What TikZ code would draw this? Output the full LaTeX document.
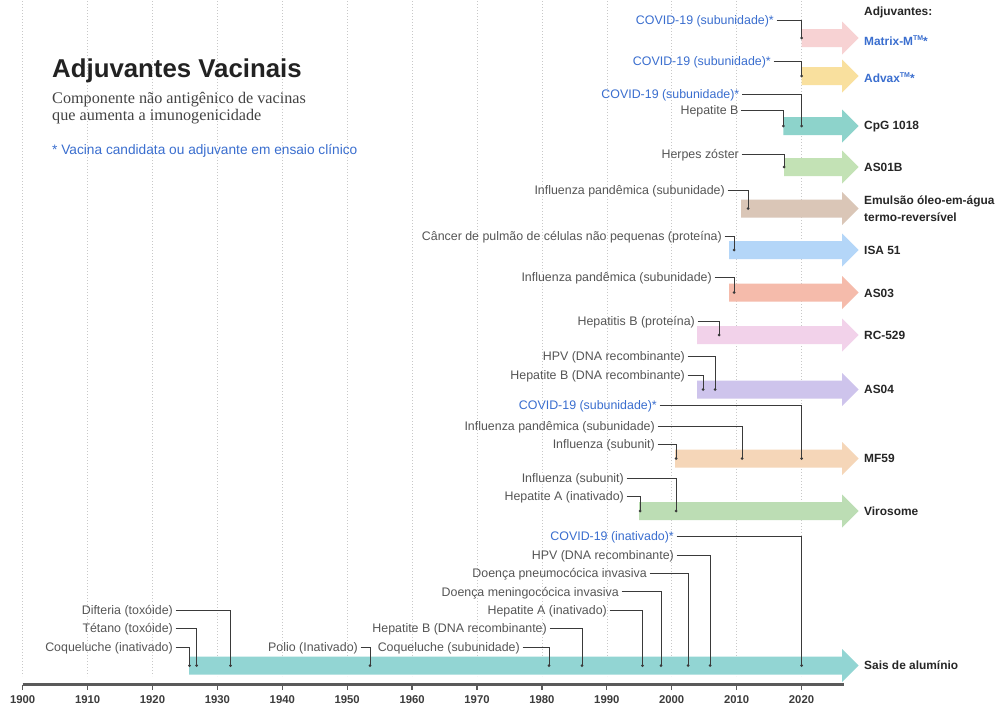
\documentclass[tikz,border=0pt]{standalone}
\usepackage{fontspec}
\setmainfont{Liberation Sans}
\newfontfamily\subserif{Liberation Serif}
\definecolor{labelgray}{HTML}{555555}
\definecolor{covblue}{HTML}{3A6ECF}
\definecolor{namedark}{HTML}{262626}
\definecolor{leadgray}{HTML}{3A3A3A}
\definecolor{gridgray}{HTML}{C8C8C8}
\definecolor{axisgray}{HTML}{5A5A5A}
\definecolor{titledark}{HTML}{222222}
\definecolor{subgray}{HTML}{444444}
\definecolor{cMatrix}{HTML}{F7D2D3}
\definecolor{cAdvax}{HTML}{F9E09E}
\definecolor{cCpG}{HTML}{8DD3CB}
\definecolor{cASb}{HTML}{C3E2B5}
\definecolor{cEmul}{HTML}{DAC6B7}
\definecolor{cISA}{HTML}{B4D6F8}
\definecolor{cASt}{HTML}{F5BBAB}
\definecolor{cRC}{HTML}{F2D2EA}
\definecolor{cASf}{HTML}{CEC4EC}
\definecolor{cMF}{HTML}{F5D6B8}
\definecolor{cViro}{HTML}{BCDDB4}
\definecolor{cSais}{HTML}{92D5D3}
\newcommand{\adjbar}[4]{%
  \fill[#3] (#1,{#2-9}) -- (842,{#2-9}) -- (842,{#2-16.5}) -- (858.5,#2) -- (842,{#2+16.5}) -- (842,{#2+9}) -- (#1,{#2+9}) -- cycle;
  \coordinate (#4) at (858.5,#2);}
\newcommand{\tmark}{\raisebox{0.42em}{\fontsize{7}{7}\selectfont TM}}
\tikzset{
  lbl/.style={anchor=east, inner sep=0pt, text height=8.8pt, text depth=0pt, text=labelgray, font=\fontsize{12.4}{14}\selectfont},
  covlbl/.style={lbl, text=covblue},
  adjname/.style={anchor=west, inner sep=0pt, align=left, text=namedark, font=\bfseries\fontsize{11.9}{16.5}\selectfont},
  lead/.style={draw=leadgray, line width=0.9pt},
  gridline/.style={draw=gridgray, line width=0.6pt, dash pattern=on 1.2pt off 1.8pt},
  ticklbl/.style={inner sep=0pt, text=namedark!90, font=\bfseries\fontsize{11.3}{13}\selectfont},
}
\newcommand{\leadto}[2]{%
  \draw[lead] ([xshift=2.5pt]#1.east) -| (#2);
  \fill[leadgray] (#2) circle (1.5pt);}
\begin{document}
\begin{tikzpicture}[x=1pt,y=-1pt]
\useasboundingbox[fill=white] (0,0) rectangle (999,704);
% grid
\foreach \i in {0,...,12}{
  \draw[gridline] ({22.7+64.9*\i},1) -- ({22.7+64.9*\i},676);
}
% axis
\draw[axisgray, line width=2.2pt] (22.7,684.5) coordinate (axL) -- (844,684.5) coordinate (axR);
\foreach \i/\yr in {0/1900,1/1910,2/1920,3/1930,4/1940,5/1950,6/1960,7/1970,8/1980,9/1990,10/2000,11/2010,12/2020}{
  \draw[axisgray, line width=1.3pt] ({22.7+64.9*\i},684.5) -- ({22.7+64.9*\i},690);
  \node[ticklbl] (t\i) at ({22.7+64.9*\i},699.5) {\yr};
}
% title block
\node[anchor=base west, inner sep=0pt, text=titledark, font=\bfseries\fontsize{25.8}{30}\selectfont] (title) at (52,77) {Adjuvantes Vacinais};
\node[anchor=base west, inner sep=0pt, text=subgray, font=\subserif\fontsize{16.2}{18}\selectfont] (sub1) at (52,103) {Componente não antigênico de vacinas};
\node[anchor=base west, inner sep=0pt, text=subgray, font=\subserif\fontsize{16.2}{18}\selectfont] (sub2) at (52,120) {que aumenta a imunogenicidade};
\node[anchor=base west, inner sep=0pt, text=covblue, font=\fontsize{13.7}{16}\selectfont] (note) at (52,154) {* Vacina candidata ou adjuvante em ensaio clínico};
% legend header
\node[adjname] (hdr) at (864,12.5) {Adjuvantes:};
% bars
\adjbar{801.7}{38}{cMatrix}{aMatrix}
\adjbar{801.7}{76}{cAdvax}{aAdvax}
\adjbar{783.3}{126}{cCpG}{aCpG}
\adjbar{784}{167}{cASb}{aASb}
\adjbar{741}{208.5}{cEmul}{aEmul}
\adjbar{729}{250}{cISA}{aISA}
\adjbar{729}{292.5}{cASt}{aASt}
\adjbar{697}{335}{cRC}{aRC}
\adjbar{697}{389.5}{cASf}{aASf}
\adjbar{675}{458.5}{cMF}{aMF}
\adjbar{639}{511}{cViro}{aViro}
\adjbar{189}{665.5}{cSais}{aSais}
% adjuvant names
\node[adjname, text=covblue] (nMatrix) at (864,41) {Matrix-M\tmark*};
\node[adjname, text=covblue] (nAdvax) at (864,78) {Advax\tmark*};
\node[adjname] (nCpG) at (864,126.5) {CpG 1018};
\node[adjname] (nASb) at (864,167) {AS01B};
\node[adjname] (nEmul) at (864,208.5) {Emulsão óleo-em-água\\termo-reversível};
\node[adjname] (nISA) at (864,250) {ISA 51};
\node[adjname] (nASt) at (864,293) {AS03};
\node[adjname] (nRC) at (864,335) {RC-529};
\node[adjname] (nASf) at (864,389.5) {AS04};
\node[adjname] (nMF) at (864,458.5) {MF59};
\node[adjname] (nViro) at (864,511) {Virosome};
\node[adjname] (nSais) at (864,665.5) {Sais de alumínio};
% Matrix-M
\node[covlbl] (l1) at (774,20) {COVID-19 (subunidade)*};
\coordinate (d1) at (801.7,38);
\leadto{l1}{d1}
% Advax
\node[covlbl] (l2) at (771,61) {COVID-19 (subunidade)*};
\coordinate (d2) at (801.7,76);
\leadto{l2}{d2}
% CpG
\node[covlbl] (l3) at (739.5,94.5) {COVID-19 (subunidade)*};
\coordinate (d3) at (801.7,126);
\leadto{l3}{d3}
\node[lbl] (l4) at (738.7,110) {Hepatite B};
\coordinate (d4) at (783.3,126);
\leadto{l4}{d4}
% AS01B
\node[lbl] (l5) at (739,154.5) {Herpes zóster};
\coordinate (d5) at (784,167);
\leadto{l5}{d5}
% Emulsao
\node[lbl] (l6) at (725,190.5) {Influenza pandêmica (subunidade)};
\coordinate (d6) at (748,208.5);
\leadto{l6}{d6}
% ISA 51
\node[lbl] (l7) at (722,236.5) {Câncer de pulmão de células não pequenas (proteína)};
\coordinate (d7) at (734,250);
\leadto{l7}{d7}
% AS03
\node[lbl] (l8) at (712,277) {Influenza pandêmica (subunidade)};
\coordinate (d8) at (734,292.5);
\leadto{l8}{d8}
% RC-529
\node[lbl] (l9) at (695,321.5) {Hepatitis B (proteína)};
\coordinate (d9) at (719,335);
\leadto{l9}{d9}
% AS04
\node[lbl] (l10) at (685,356) {HPV (DNA recombinante)};
\coordinate (d10) at (715,389.5);
\leadto{l10}{d10}
\node[lbl] (l11) at (685,375) {Hepatite B (DNA recombinante)};
\coordinate (d11) at (703,389.5);
\leadto{l11}{d11}
% MF59
\node[covlbl] (l12) at (657,405) {COVID-19 (subunidade)*};
\coordinate (d12) at (801.7,458.5);
\leadto{l12}{d12}
\node[lbl] (l13) at (655,426.5) {Influenza pandêmica (subunidade)};
\coordinate (d13) at (742,458.5);
\leadto{l13}{d13}
\node[lbl] (l14) at (655,444) {Influenza (subunit)};
\coordinate (d14) at (676,458.5);
\leadto{l14}{d14}
% Virosome
\node[lbl] (l15) at (624,478.5) {Influenza (subunit)};
\coordinate (d15) at (676,511);
\leadto{l15}{d15}
\node[lbl] (l16) at (624,496) {Hepatite A (inativado)};
\coordinate (d16) at (640,511);
\leadto{l16}{d16}
% Sais de aluminio
\node[covlbl] (l17) at (674,536.5) {COVID-19 (inativado)*};
\coordinate (d17) at (801.7,665.5);
\leadto{l17}{d17}
\node[lbl] (l18) at (674,555) {HPV (DNA recombinante)};
\coordinate (d18) at (710,665.5);
\leadto{l18}{d18}
\node[lbl] (l19) at (647,573) {Doença pneumocócica invasiva};
\coordinate (d19) at (688,665.5);
\leadto{l19}{d19}
\node[lbl] (l20) at (619,591.7) {Doença meningocócica invasiva};
\coordinate (d20) at (661,665.5);
\leadto{l20}{d20}
\node[lbl] (l21) at (607,610.5) {Hepatite A (inativado)};
\coordinate (d21) at (642.5,665.5);
\leadto{l21}{d21}
\node[lbl] (l22) at (547,628.5) {Hepatite B (DNA recombinante)};
\coordinate (d22) at (582,665.5);
\leadto{l22}{d22}
\node[lbl] (l23) at (520,647) {Coqueluche (subunidade)};
\coordinate (d23) at (549,665.5);
\leadto{l23}{d23}
\node[lbl] (l24) at (358,647) {Polio (Inativado)};
\coordinate (d24) at (370,665.5);
\leadto{l24}{d24}
\node[lbl] (l25) at (173,610) {Difteria (toxóide)};
\coordinate (d25) at (230.5,665.5);
\leadto{l25}{d25}
\node[lbl] (l26) at (173,628.5) {Tétano (toxóide)};
\coordinate (d26) at (196.7,665.5);
\leadto{l26}{d26}
\node[lbl] (l27) at (173,647) {Coqueluche (inativado)};
\coordinate (d27) at (189.5,665.5);
\leadto{l27}{d27}
\end{tikzpicture}
\end{document}
